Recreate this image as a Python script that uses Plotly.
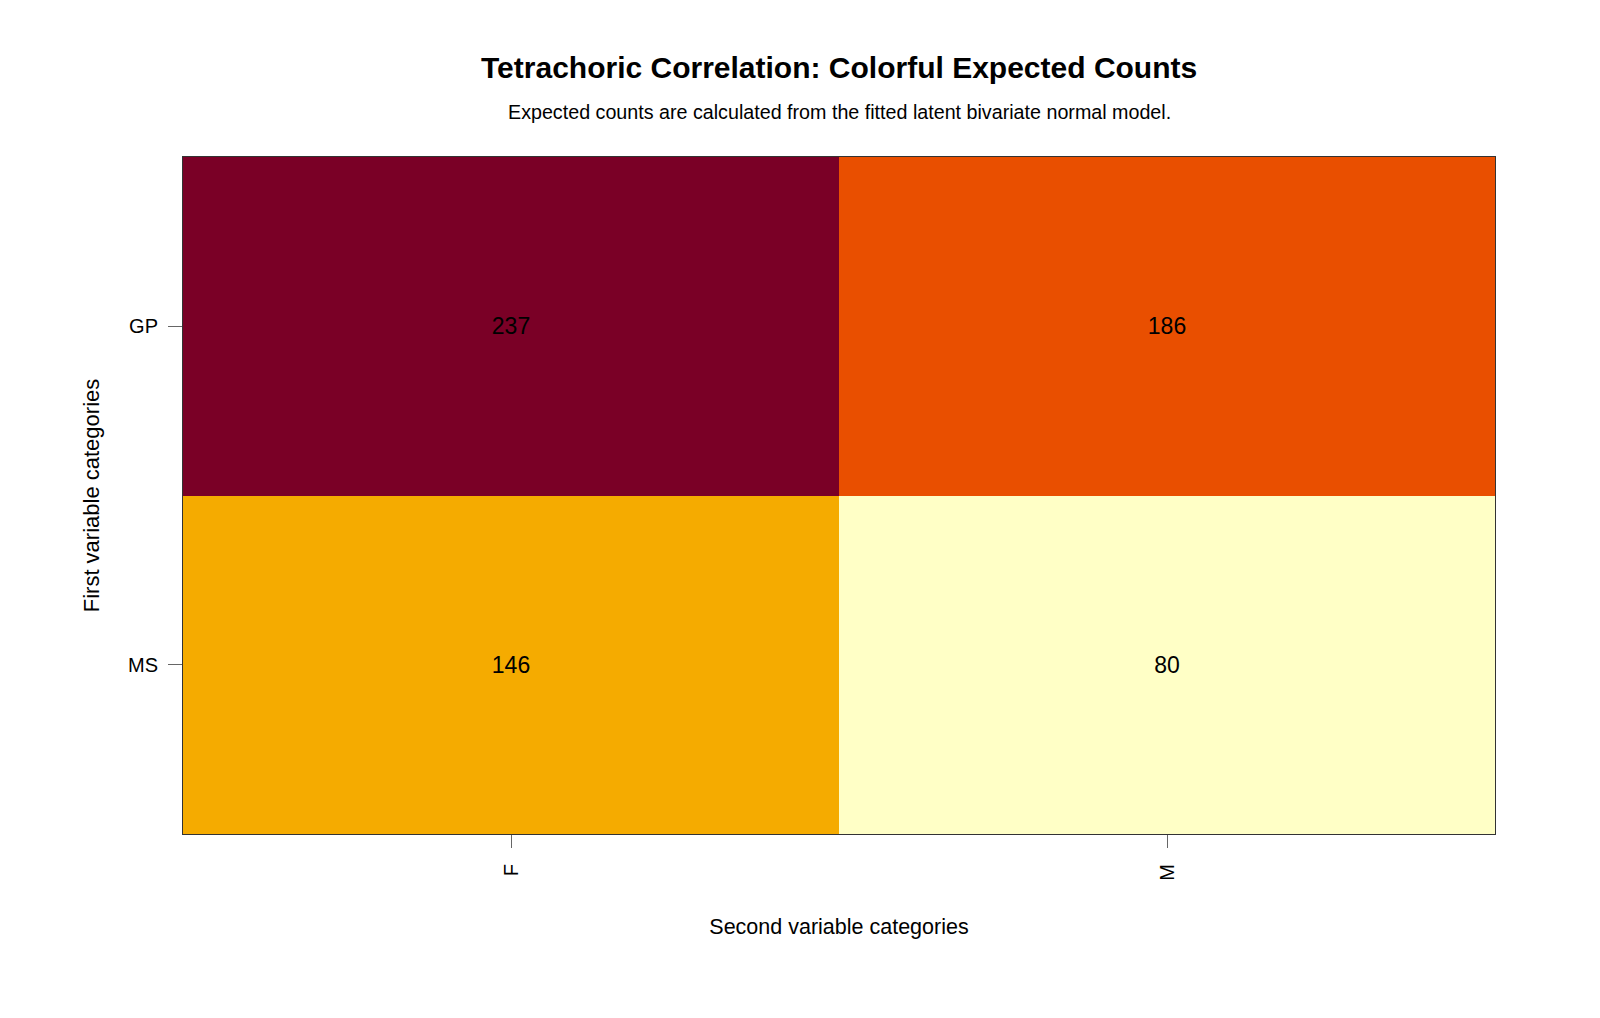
import plotly.graph_objects as go

# Data
col_categories = ["F", "M"]          # second variable
row_categories = ["GP", "MS"]        # first variable
expected_counts = [
    [237, 186],
    [146, 80],
]

title_text = "Tetrachoric Correlation: Colorful Expected Counts"
subtitle_text = "Expected counts are calculated from the fitted latent bivariate normal model."
x_title = "Second variable categories"
y_title = "First variable categories"

FONT = "Liberation Sans, Arial, sans-serif"

zmin, zmax = 80, 237
colorscale = [
    [0.0, "#FFFFC6"],
    [(146 - zmin) / (zmax - zmin), "#F5AB00"],
    [(186 - zmin) / (zmax - zmin), "#E94F00"],
    [1.0, "#7A0026"],
]

W, H = 1600, 1018
M_L, M_R, M_T, M_B = 183, 105, 157, 184

fig = go.Figure(
    go.Heatmap(
        x=col_categories,
        y=row_categories,
        z=expected_counts,
        zmin=zmin,
        zmax=zmax,
        colorscale=colorscale,
        showscale=False,
        texttemplate="%{z}",
        textfont=dict(family=FONT, size=23, color="black"),
        hoverinfo="x+y+z",
    )
)

plot_h = H - M_T - M_B


def ypix(p):
    return (H - M_B - p) / plot_h


fig.update_layout(
    width=W,
    height=H,
    paper_bgcolor="white",
    plot_bgcolor="white",
    margin=dict(l=M_L, r=M_R, t=M_T, b=M_B),
    font=dict(family=FONT, color="black"),
    annotations=[
        dict(text="<b>" + title_text + "</b>", x=0.5, y=ypix(68), xref="paper", yref="paper",
             showarrow=False, font=dict(size=30, family=FONT, color="black"), yanchor="middle"),
        dict(text=subtitle_text, x=0.5, y=ypix(112), xref="paper", yref="paper",
             showarrow=False, font=dict(size=19.7, family=FONT, color="black"), yanchor="middle"),
    ],
)

fig.update_xaxes(
    title=dict(text=x_title, font=dict(size=21.5, family=FONT), standoff=39),
    tickangle=-90,
    ticks="outside",
    ticklen=13,
    tickcolor="#666666",
    ticklabelstandoff=8,
    tickfont=dict(size=20, family=FONT),
    showline=True,
    mirror=True,
    linecolor="#333333",
    linewidth=1,
    showgrid=False,
    zeroline=False,
)
fig.update_yaxes(
    title=dict(text=y_title, font=dict(size=22, family=FONT), standoff=22),
    autorange="reversed",
    ticks="outside",
    ticklen=14,
    tickcolor="#666666",
    ticklabelstandoff=6,
    tickfont=dict(size=20, family=FONT),
    showline=True,
    mirror=True,
    linecolor="#333333",
    linewidth=1,
    showgrid=False,
    zeroline=False,
)

fig.write_html("out.html")
